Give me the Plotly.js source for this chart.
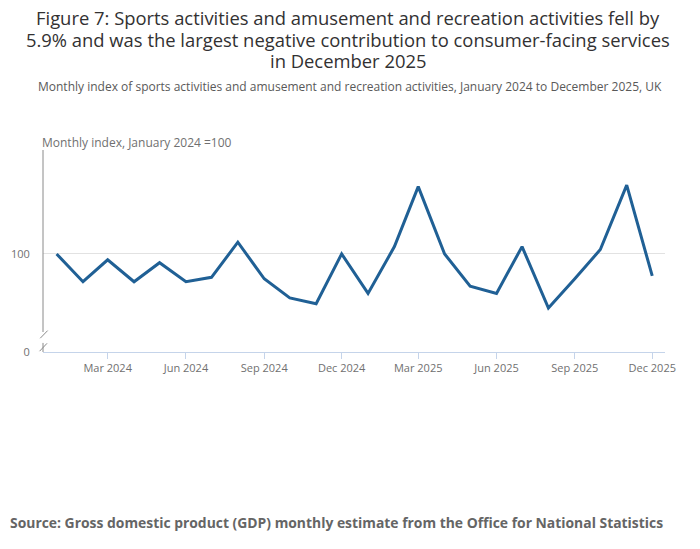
<!DOCTYPE html>
<html>
<head>
<meta charset="utf-8">
<script src="https://cdn.plot.ly/plotly-3.0.1.min.js"></script>
<style>
  html, body { margin: 0; padding: 0; background: #ffffff; }
  #chart { width: 700px; height: 549px; }
</style>
</head>
<body>
<div id="chart"></div>
<script>
// monthly index, January 2024 = 100
const months = [
    '2024-01-01', '2024-02-01', '2024-03-01', '2024-04-01', '2024-05-01', '2024-06-01',
    '2024-07-01', '2024-08-01', '2024-09-01', '2024-10-01', '2024-11-01', '2024-12-01',
    '2025-01-01', '2025-02-01', '2025-03-01', '2025-04-01', '2025-05-01', '2025-06-01',
    '2025-07-01', '2025-08-01', '2025-09-01', '2025-10-01', '2025-11-01', '2025-12-01',
];
const indexValues = [
    100.0, 98.1, 99.6, 98.1, 99.4, 98.1,
    98.4, 100.8, 98.3, 97.0, 96.6, 100.0,
    97.3, 100.5, 104.6, 100.0, 97.8, 97.3,
    100.5, 96.3, 98.3, 100.3, 104.7, 98.5,
];
// axis is broken: the bottom of the axis carries a "0" label
const yAxisBottom = 93.3;
const yAxisTop = 107.1;
const yTickVals = [yAxisBottom, 100];
const yTickText = ['0', '100'];

const titleLines = [
    'Figure 7: Sports activities and amusement and recreation activities fell by',
    '5.9% and was the largest negative contribution to consumer-facing services',
    'in December 2025',
];

const greyText = '#707070';
const axisBlue = '#c5d4ea';

const indexLine = {
    x: months,
    y: indexValues,
    type: 'scatter',
    mode: 'lines',
    line: {
        color: '#206095',
        width: 3,
    },
    hovertemplate: '%{x|%b %Y}: %{y}<extra></extra>',
};

// y axis line with a break drawn near the bottom
const axisGrey = {color: '#8a8a8a', width: 1};
const shapes = [
    {type: 'line', xref: 'paper', yref: 'paper', x0: 0, x1: 0, y0: 0.099, y1: 1, line: axisGrey},
    {type: 'line', xref: 'paper', yref: 'paper', x0: 0, x1: 0, y0: 0, y1: 0.045, line: axisGrey},
    {type: 'line', xref: 'paper', yref: 'paper', x0: -0.0045, x1: 0.0075, y0: 0.068, y1: 0.106, line: axisGrey},
    {type: 'line', xref: 'paper', yref: 'paper', x0: -0.0055, x1: 0.0065, y0: 0.004, y1: 0.043, line: axisGrey},
];

// title is set line by line to get the tight line spacing of the original
const titleY = [1.6535, 1.5446, 1.4406];
const titleAnnotations = titleLines.map((line, i) => ({
    text: line,
    xref: 'paper', yref: 'paper',
    x: 0.5, y: titleY[i], xanchor: 'center', yanchor: 'middle',
    xshift: -6,
    showarrow: false,
    font: {size: 18.4, color: '#323132'},
}));

const layout = {
    width: 700,
    height: 549,
    showlegend: false,
    font: {
        family: '"Open Sans", sans-serif',
        color: greyText,
    },
    annotations: [
        ...titleAnnotations,
        {
            text: 'Monthly index of sports activities and amusement and recreation activities, January 2024 to December 2025, UK',
            xref: 'paper', yref: 'paper',
            x: 0.5, y: 1.315, xanchor: 'center', yanchor: 'middle',
            xshift: -4,
            showarrow: false,
            font: {size: 12, color: '#595959'},
        },
        {
            text: 'Monthly index, January 2024 =100',
            xref: 'paper', yref: 'paper',
            x: 0, y: 1.035, xanchor: 'left', yanchor: 'middle',
            xshift: -3,
            showarrow: false,
            font: {size: 12, color: greyText},
        },
        {
            text: '<b>Source: Gross domestic product (GDP) monthly estimate from the Office for National Statistics</b>',
            xref: 'paper', yref: 'paper',
            x: 0, y: -0.842, xanchor: 'left', yanchor: 'middle',
            xshift: -35,
            showarrow: false,
            font: {size: 13.9, color: '#656565'},
        },
    ],
    xaxis: {
        type: 'date',
        range: ['2023-12-16', '2025-12-16'],
        tick0: '2024-03-01',
        dtick: 'M3',
        tickformat: '%b %Y',
        ticks: 'outside',
        ticklen: 6,
        tickcolor: axisBlue,
        tickfont: {size: 11, color: greyText},
        showgrid: false,
        showline: true,
        linecolor: axisBlue,
        linewidth: 1,
        zeroline: false,
        fixedrange: true,
    },
    yaxis: {
        range: [yAxisBottom, yAxisTop],
        tickvals: yTickVals,
        ticktext: yTickText,
        ticks: 'outside',
        ticklen: 10,
        tickcolor: 'rgba(0,0,0,0)',
        tickfont: {size: 11, color: greyText},
        showgrid: true,
        gridcolor: '#e2e2e2',
        showline: false,
        zeroline: false,
        fixedrange: true,
    },
    shapes: shapes,
    plot_bgcolor: '#ffffff',
    paper_bgcolor: '#ffffff',
    margin: {l: 43, r: 35, t: 150, b: 197},
    hovermode: 'closest',
};

Plotly.newPlot('chart', [indexLine], layout, {displayModeBar: false, responsive: false});
</script>
</body>
</html>
